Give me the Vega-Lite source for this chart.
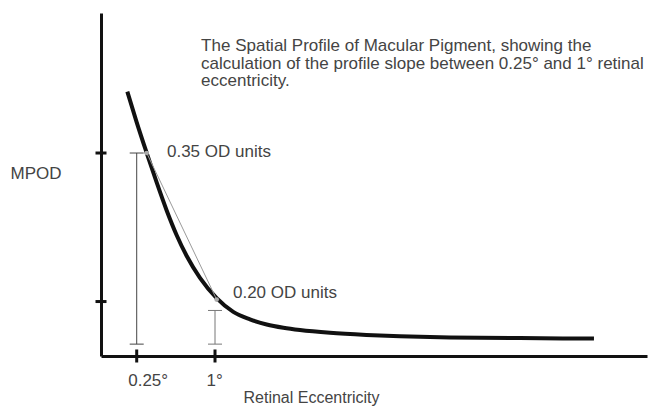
{
  "$schema": "https://vega.github.io/schema/vega-lite/v6.json",
  "width": 546,
  "height": 343,
  "autosize": "none",
  "padding": {"left": 101, "top": 13, "right": 5, "bottom": 51},
  "background": "white",
  "config": {"view": {"stroke": null}, "font": "Liberation Sans"},
  "datasets": {
    "curve": [
      {"deg": 0.160, "mpod": 0.412},
      {"deg": 0.250, "mpod": 0.381},
      {"deg": 0.346, "mpod": 0.350},
      {"deg": 0.442, "mpod": 0.320},
      {"deg": 0.537, "mpod": 0.292},
      {"deg": 0.633, "mpod": 0.267},
      {"deg": 0.729, "mpod": 0.246},
      {"deg": 0.856, "mpod": 0.224},
      {"deg": 1.016, "mpod": 0.2035},
      {"deg": 1.175, "mpod": 0.1895},
      {"deg": 1.335, "mpod": 0.1820},
      {"deg": 1.495, "mpod": 0.1768},
      {"deg": 1.655, "mpod": 0.1735},
      {"deg": 1.814, "mpod": 0.1712},
      {"deg": 2.101, "mpod": 0.1684},
      {"deg": 2.450, "mpod": 0.1663},
      {"deg": 2.772, "mpod": 0.1650},
      {"deg": 3.251, "mpod": 0.1638},
      {"deg": 3.921, "mpod": 0.1631},
      {"deg": 4.630, "mpod": 0.1626}
    ],
    "slope": [
      {"deg": 0.346, "mpod": 0.350},
      {"deg": 1.016, "mpod": 0.202}
    ],
    "bars": [
      {"deg": 0.25, "lo": 0.157, "hi": 0.350, "shade": "dark"},
      {"deg": 1.0, "lo": 0.157, "hi": 0.191, "shade": "light"}
    ],
    "xticks": [{"deg": 0.25}, {"deg": 1.0}],
    "yticks": [{"mpod": 0.20}, {"mpod": 0.35}],
    "notes": [
      {"deg": 0.540, "mpod": 0.351, "label": "0.35 OD units"},
      {"deg": 1.172, "mpod": 0.209, "label": "0.20 OD units"}
    ]
  },
  "layer": [
    {
      "data": {"name": "curve"},
      "mark": {"type": "line", "color": "#111111", "strokeWidth": 4, "interpolate": "monotone"},
      "encoding": {
        "x": {
          "field": "deg", "type": "quantitative",
          "scale": {"domain": [-0.092, 5.138], "nice": false, "zero": false},
          "axis": {
            "values": [0.25, 1],
            "labelExpr": "datum.value == 1 ? '1°' : '0.25°'",
            "grid": false, "ticks": false, "tickSize": 0,
            "domainColor": "#111111", "domainWidth": 3,
            "labelFontSize": 17, "labelColor": "#444444", "labelFont": "Liberation Sans",
            "labelAlign": "left", "labelOffset": -9, "labelPadding": 16, "labelBaseline": "top",
            "title": "Retinal Eccentricity", "titleFontSize": 16, "titleFontWeight": "normal",
            "titleColor": "#444444", "titleFont": "Liberation Sans",
            "titleAlign": "left", "titleAnchor": "start", "titleX": 142, "titleY": 33, "titleBaseline": "top"
          }
        },
        "y": {
          "field": "mpod", "type": "quantitative",
          "scale": {"domain": [0.145, 0.4914], "nice": false, "zero": false},
          "axis": {
            "values": [0.2, 0.35],
            "labels": false, "grid": false, "ticks": false, "tickSize": 0,
            "domainColor": "#111111", "domainWidth": 3,
            "title": "MPOD", "titleAngle": 0, "titleFontSize": 17, "titleFontWeight": "normal",
            "titleColor": "#444444", "titleFont": "Liberation Sans",
            "titleAlign": "left", "titleBaseline": "middle", "titleX": -91, "titleY": 160
          }
        }
      }
    },
    {
      "data": {"name": "slope"},
      "mark": {"type": "line", "color": "#9a9a9a", "strokeWidth": 1},
      "encoding": {
        "x": {"field": "deg", "type": "quantitative"},
        "y": {"field": "mpod", "type": "quantitative"}
      }
    },
    {
      "data": {"name": "slope"},
      "mark": {"type": "point", "filled": true, "color": "#aaaaaa", "size": 22, "opacity": 1},
      "encoding": {
        "x": {"field": "deg", "type": "quantitative"},
        "y": {"field": "mpod", "type": "quantitative"}
      }
    },
    {
      "data": {"name": "bars"},
      "mark": {"type": "rule", "strokeWidth": 1},
      "encoding": {
        "x": {"field": "deg", "type": "quantitative"},
        "y": {"field": "lo", "type": "quantitative"},
        "y2": {"field": "hi"},
        "color": {"field": "shade", "type": "nominal", "scale": {"domain": ["dark", "light"], "range": ["#444444", "#777777"]}, "legend": null}
      }
    },
    {
      "data": {"name": "bars"},
      "mark": {"type": "tick", "orient": "horizontal", "size": 14, "thickness": 1, "opacity": 1},
      "encoding": {
        "x": {"field": "deg", "type": "quantitative"},
        "y": {"field": "lo", "type": "quantitative"},
        "color": {"field": "shade", "type": "nominal", "legend": null}
      }
    },
    {
      "data": {"name": "bars"},
      "mark": {"type": "tick", "orient": "horizontal", "size": 14, "thickness": 1, "opacity": 1},
      "encoding": {
        "x": {"field": "deg", "type": "quantitative"},
        "y": {"field": "hi", "type": "quantitative"},
        "color": {"field": "shade", "type": "nominal", "legend": null}
      }
    },
    {
      "data": {"name": "xticks"},
      "mark": {"type": "tick", "orient": "vertical", "size": 13, "thickness": 3, "color": "#111111", "opacity": 1},
      "encoding": {
        "x": {"field": "deg", "type": "quantitative"},
        "y": {"datum": 0.145, "type": "quantitative"}
      }
    },
    {
      "data": {"name": "yticks"},
      "mark": {"type": "tick", "orient": "horizontal", "size": 11, "thickness": 3, "color": "#111111", "opacity": 1},
      "encoding": {
        "y": {"field": "mpod", "type": "quantitative"},
        "x": {"datum": -0.092, "type": "quantitative"}
      }
    },
    {
      "data": {"name": "notes"},
      "mark": {"type": "text", "align": "left", "baseline": "middle", "fontSize": 17, "color": "#444444", "font": "Liberation Sans"},
      "encoding": {
        "x": {"field": "deg", "type": "quantitative"},
        "y": {"field": "mpod", "type": "quantitative"},
        "text": {"field": "label"}
      }
    },
    {
      "data": {"values": [{}]},
      "mark": {
        "type": "text", "align": "left", "baseline": "alphabetic", "fontSize": 17, "lineHeight": 17.5,
        "color": "#444444", "font": "Liberation Sans",
        "text": ["The Spatial Profile of Macular Pigment, showing the", "calculation of the profile slope between 0.25° and 1° retinal", "eccentricity."]
      },
      "encoding": {
        "x": {"datum": 0.867, "type": "quantitative"},
        "y": {"datum": 0.453, "type": "quantitative"}
      }
    }
  ]
}
